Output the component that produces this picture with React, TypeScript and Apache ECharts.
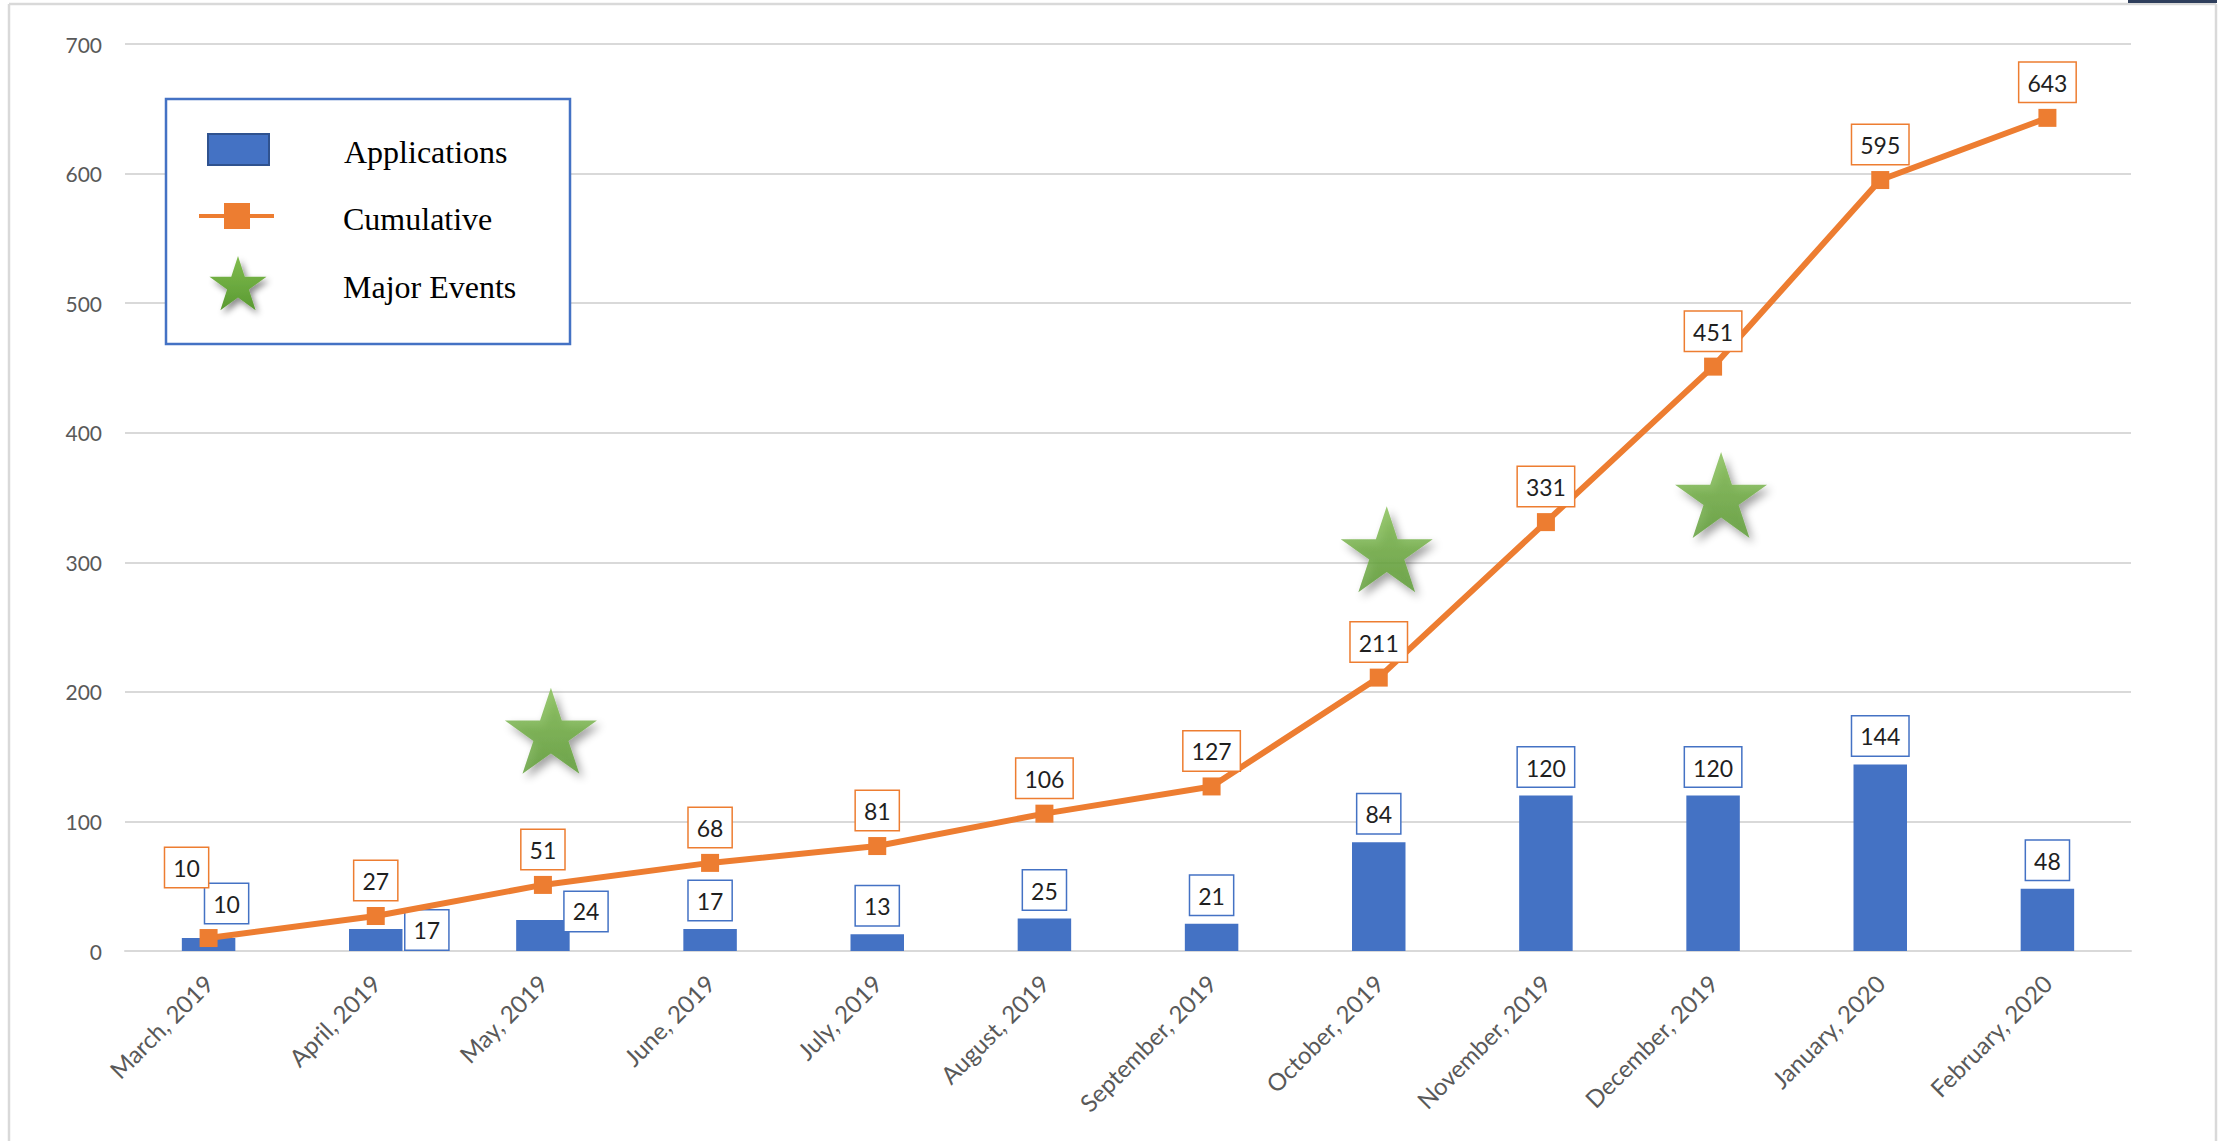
import React, { useEffect, useRef } from "react";
import * as echarts from "echarts";

const categories = [
  "March, 2019",
  "April, 2019",
  "May, 2019",
  "June, 2019",
  "July, 2019",
  "August, 2019",
  "September, 2019",
  "October, 2019",
  "November, 2019",
  "December, 2019",
  "January, 2020",
  "February, 2020",
];
const applications = [10, 17, 24, 17, 13, 25, 21, 84, 120, 120, 144, 48];
const cumulative = [10, 27, 51, 68, 81, 106, 127, 211, 331, 451, 595, 643];
const eventMonths = ["May, 2019", "October, 2019", "December, 2019"];
const eventValues = [170, 310, 352];
const legendLabels = ["Applications", "Cumulative", "Major Events"];
const yMin = 0;
const yMax = 700;
const yInterval = 100;

const BLUE = "#4472C4";
const ORANGE = "#ED7D31";
const STAR_POINTS: number[][] = [
  [50, 0], [61.23, 34.55], [97.55, 34.55], [68.16, 55.9], [79.39, 90.45],
  [50, 69.1], [20.61, 90.45], [31.84, 55.9], [2.45, 34.55], [38.77, 34.55],
];
const STAR_PATH =
  "path://" +
  STAR_POINTS.map((p, i) => (i === 0 ? "M" : "L") + p[0] + " " + p[1]).join(" ") +
  " Z";

const starGradient = () =>
  new echarts.graphic.LinearGradient(0, 0, 0, 1, [
    { offset: 0, color: "#80BC4E" },
    { offset: 1, color: "#5A9A32" },
  ]);

const labelBox = (border: string) => ({
  show: true,
  color: "#1f1f1f",
  fontFamily: "Lato, 'Open Sans', sans-serif",
  fontSize: 23,
  lineHeight: 28,
  backgroundColor: "#ffffff",
  borderColor: border,
  borderWidth: 1.5,
  padding: [6, 8, 5, 8],
});

// manual label placements (as in the original Excel chart)
const barLabelOverrides: Record<number, any> = {
  0: { position: "top", distance: 9, offset: [18, -6] },
  1: { position: "right", distance: 3, offset: [0, -10] },
  2: { position: "right", distance: -5, offset: [0, -24] },
};
const lineLabelOverrides: Record<number, any> = {
  0: { position: "top", distance: 7, offset: [-22, -35] },
};

export default function App() {
  const ref = useRef<HTMLDivElement>(null);

  useEffect(() => {
    if (!ref.current) return;
    const chart = echarts.init(ref.current, null, { renderer: "svg" });

    const barData = applications.map((v, i) =>
      barLabelOverrides[i] ? { value: v, label: barLabelOverrides[i] } : v
    );
    const lineData = cumulative.map((v, i) =>
      lineLabelOverrides[i] ? { value: v, label: lineLabelOverrides[i] } : v
    );
    const eventData = eventMonths.map((m, i) => [m, eventValues[i]]);

    const legendStarScale = 0.6;
    const legendStar = STAR_POINTS.map((p) => [p[0] * legendStarScale, p[1] * legendStarScale]);

    const option: any = {
      animation: false,
      backgroundColor: "#ffffff",
      grid: { left: 125, right: 93, top: 44, bottom: 190 },
      xAxis: {
        type: "category",
        data: categories,
        axisTick: { show: false },
        axisLine: { lineStyle: { color: "#D9D9D9", width: 2 } },
        axisLabel: {
          rotate: 45,
          interval: 0,
          margin: 28,
          color: "#595959",
          fontSize: 24,
          fontFamily: "Lato, 'Open Sans', sans-serif",
        },
      },
      yAxis: {
        type: "value",
        min: yMin,
        max: yMax,
        interval: yInterval,
        axisLine: { show: false },
        axisTick: { show: false },
        axisLabel: {
          color: "#595959",
          fontSize: 21,
          margin: 23,
          fontFamily: "Lato, 'Open Sans', sans-serif",
        },
        splitLine: { lineStyle: { color: "#D9D9D9", width: 2 } },
      },
      series: [
        {
          name: legendLabels[0],
          type: "bar",
          data: barData,
          barWidth: "32%",
          itemStyle: { color: BLUE },
          label: { ...labelBox(BLUE), position: "top", distance: 9 },
          z: 2,
        },
        {
          name: legendLabels[1],
          type: "line",
          data: lineData,
          symbol: "rect",
          symbolSize: 18,
          lineStyle: { color: ORANGE, width: 6 },
          itemStyle: { color: ORANGE },
          label: { ...labelBox(ORANGE), position: "top", distance: 7 },
          z: 3,
        },
        {
          name: legendLabels[2],
          type: "scatter",
          data: eventData,
          symbol: STAR_PATH,
          symbolSize: [92, 86],
          symbolOffset: [8, 0],
          itemStyle: {
            color: starGradient(),
            shadowBlur: 8,
            shadowColor: "rgba(0,0,0,0.45)",
            shadowOffsetX: 4,
            shadowOffsetY: 5,
          },
          z: 4,
        },
      ],
      graphic: [
        // outer frame
        { type: "line", z: 20, shape: { x1: 9, y1: 4, x2: 2216, y2: 4 }, style: { stroke: "#D9D9D9", lineWidth: 2.5 } },
        { type: "line", z: 20, shape: { x1: 9, y1: 4, x2: 9, y2: 1141 }, style: { stroke: "#D9D9D9", lineWidth: 2.5 } },
        { type: "line", z: 20, shape: { x1: 2216, y1: 4, x2: 2216, y2: 1141 }, style: { stroke: "#D9D9D9", lineWidth: 2.5 } },
        { type: "rect", z: 21, shape: { x: 2128, y: 0, width: 89, height: 3 }, style: { fill: "#2E3E5C" } },
        // legend
        {
          type: "group",
          z: 20,
          children: [
            { type: "rect", z: 20, shape: { x: 166, y: 99, width: 404, height: 245 }, style: { fill: "#ffffff", stroke: BLUE, lineWidth: 2.5 } },
            { type: "rect", z: 21, shape: { x: 208, y: 134, width: 61, height: 31 }, style: { fill: BLUE, stroke: "#2F528F", lineWidth: 2 } },
            { type: "line", z: 21, shape: { x1: 199, y1: 216, x2: 274, y2: 216 }, style: { stroke: ORANGE, lineWidth: 4 } },
            { type: "rect", z: 22, shape: { x: 224, y: 203, width: 26, height: 26 }, style: { fill: ORANGE } },
            {
              type: "polygon",
              z: 21,
              x: 238 - 50 * legendStarScale,
              y: 283 - 45 * legendStarScale,
              shape: { points: legendStar },
              style: {
                fill: starGradient(),
                shadowBlur: 6,
                shadowColor: "rgba(0,0,0,0.45)",
                shadowOffsetX: 3,
                shadowOffsetY: 4,
              },
            },
            {
              type: "text", z: 21, x: 344, y: 152,
              style: { text: legendLabels[0], font: "32px 'Liberation Serif', 'Times New Roman', serif", fill: "#000", textVerticalAlign: "middle", verticalAlign: "middle" },
            },
            {
              type: "text", z: 21, x: 343, y: 219,
              style: { text: legendLabels[1], font: "32px 'Liberation Serif', 'Times New Roman', serif", fill: "#000", textVerticalAlign: "middle", verticalAlign: "middle" },
            },
            {
              type: "text", z: 21, x: 343, y: 287,
              style: { text: legendLabels[2], font: "32px 'Liberation Serif', 'Times New Roman', serif", fill: "#000", textVerticalAlign: "middle", verticalAlign: "middle" },
            },
          ],
        },
      ],
    };

    chart.setOption(option);
    return () => chart.dispose();
  }, []);

  return (
    <div
      ref={ref}
      style={{ position: "fixed", left: 0, top: 0, width: "2224px", height: "1141px", background: "#fff" }}
    />
  );
}
